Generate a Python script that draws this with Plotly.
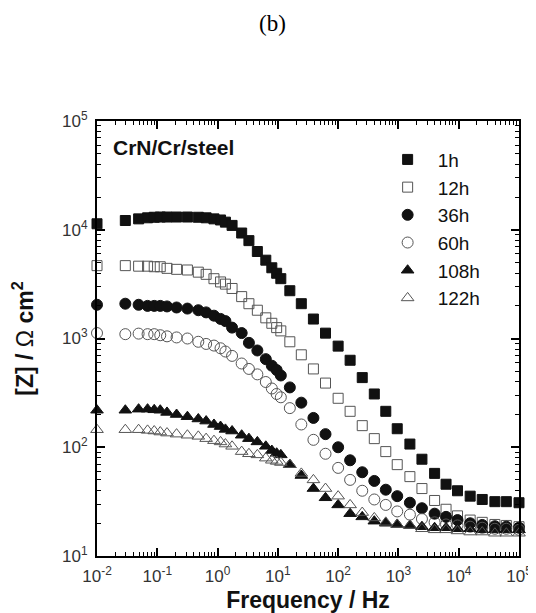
import plotly.graph_objects as go

freq_hz = [0.01, 0.0295, 0.049, 0.069, 0.089, 0.112, 0.145, 0.209, 0.316, 0.479,
           0.646, 0.871, 1.12, 1.35, 1.74, 2.51, 3.31, 4.57, 6.31, 7.94,
           9.55, 11.2, 15.8, 24.5, 38.9, 61.7, 100, 158, 251, 398,
           617, 955, 1550, 2455, 3981, 6166, 9550, 15490, 24550, 39810,
           61660, 100000]

z_1h = [11350, 12160, 12590, 12880, 13030, 13090, 13090, 13090, 13090, 13030,
        12880, 12590, 12300, 11750, 10960, 9330, 7940, 6310, 5250, 4470,
        3980, 3550, 2750, 2090, 1510, 1120, 851, 631, 437, 309,
        214, 148, 107, 77.6, 57.5, 45.7, 39.8, 35.5, 33.1, 31.6,
        31.6, 30.9]
z_12h = [4677, 4677, 4624, 4624, 4571, 4571, 4416, 4325, 4266, 4074,
         3890, 3548, 3311, 3162, 2884, 2427, 2089, 1820, 1549, 1380,
         1259, 1175, 933, 708, 525, 389, 282, 214, 158, 120,
         91.2, 69.2, 53.7, 41.7, 32.4, 26.9, 23.4, 21.4, 20.4, 19.5,
         19.1, 18.6]
z_36h = [2042, 2089, 2042, 1995, 1995, 1995, 1972, 1928, 1884, 1820,
         1738, 1622, 1514, 1445, 1259, 1122, 912, 776, 646, 562,
         513, 457, 355, 257, 186, 132, 100, 75.9, 58.9, 49.0,
         40.7, 35.5, 30.9, 27.5, 24.5, 22.9, 21.4, 20.0, 19.3, 18.8,
         18.6, 18.2]
z_60h = [1122, 1096, 1109, 1096, 1096, 1072, 1047, 1023, 1000, 933,
         891, 861, 813, 759, 692, 589, 525, 468, 398, 347,
         309, 288, 229, 162, 117, 87.1, 64.6, 50.1, 39.8, 33.1,
         29.5, 25.7, 24.0, 21.9, 20.4, 19.5, 19.1, 18.6, 18.2, 17.8,
         17.8, 17.4]
z_108h = [219, 219, 224, 224, 221, 219, 209, 200, 191, 182,
          174, 162, 155, 146, 141, 129, 120, 112, 102, 93.3,
          88.1, 85.1, 69.2, 55.0, 41.7, 34.3, 29.5, 24.5, 22.9, 20.9,
          20.0, 19.5, 19.1, 18.6, 18.2, 18.2, 17.8, 17.8, 17.4, 17.4,
          17.4, 17.4]
z_122h = [145, 145, 145, 143, 141, 138, 135, 132, 129, 126,
          120, 115, 112, 107, 102, 91.2, 87.1, 85.1, 79.4, 75.9,
          74.1, 72.4, 69.2, 57.5, 50.1, 41.7, 35.5, 29.5, 25.1, 22.4,
          20.4, 19.5, 19.1, 17.8, 17.4, 17.4, 17.0, 16.6, 16.6, 16.2,
          16.2, 16.2]

series_names = ["1h", "12h", "36h", "60h", "108h", "122h"]
series_values = [z_1h, z_12h, z_36h, z_60h, z_108h, z_122h]
symbols = ["square", "square-open", "circle", "circle-open", "triangle-up", "triangle-up-open"]
colors = ["#111111", "#555555", "#111111", "#555555", "#111111", "#555555"]

x_tickvals = [0.01, 0.1, 1, 10, 100, 1000, 10000, 100000]
x_ticktext = ["10<sup>-2</sup>", "10<sup>-1</sup>", "10<sup>0</sup>", "10<sup>1</sup>",
              "10<sup>2</sup>", "10<sup>3</sup>", "10<sup>4</sup>", "10<sup>5</sup>"]
y_tickvals = [10, 100, 1000, 10000, 100000]
y_ticktext = ["10<sup>1</sup>", "10<sup>2</sup>", "10<sup>3</sup>", "10<sup>4</sup>", "10<sup>5</sup>"]
minor_mults = [2, 3, 4, 5, 6, 7, 8, 9]
x_minor = [m * d for d in x_tickvals[:-1] for m in minor_mults]
y_minor = [m * d for d in y_tickvals[:-1] for m in minor_mults]

fig = go.Figure()
for name, vals, sym, col in zip(series_names, series_values, symbols, colors):
    fig.add_trace(go.Scatter(
        x=freq_hz, y=vals, mode="markers", name=name, cliponaxis=False,
        marker=dict(symbol=sym, size=10 if "square" in sym else 11, color=col,
                    line=dict(width=1, color=col)),
    ))

axis_common = dict(
    type="log", showline=True, linewidth=2, linecolor="black", mirror="allticks",
    ticks="inside", ticklen=8, tickwidth=1.5, tickcolor="black",
    showgrid=False, zeroline=False, ticklabelstandoff=4,
    tickfont=dict(family="Liberation Sans, Arial", size=17, color="#333333"),
)

fig.update_xaxes(**axis_common, range=[-2, 5], tickvals=x_tickvals, ticktext=x_ticktext,
                 minor=dict(tickmode="array", tickvals=x_minor, ticks="inside", ticklen=4,
                            tickwidth=1.2, tickcolor="black", showgrid=False),
                 title=dict(text="<b>Frequency / Hz</b>",
                            font=dict(family="Liberation Sans, Arial", size=23, color="#111111"),
                            standoff=6))
fig.update_yaxes(**axis_common, range=[1, 5], tickvals=y_tickvals, ticktext=y_ticktext,
                 minor=dict(tickmode="array", tickvals=y_minor, ticks="inside", ticklen=4,
                            tickwidth=1.2, tickcolor="black", showgrid=False),
                 title=dict(text="<b>[Z] / </b>Ω<b> cm<sup>2</sup></b>",
                            font=dict(family="Liberation Sans, Arial", size=23, color="#111111"),
                            standoff=26))

fig.add_annotation(text="(b)", xref="paper", yref="paper", x=0.415, y=1.225,
                   showarrow=False, xanchor="center", yanchor="middle",
                   font=dict(family="Liberation Serif, Times New Roman", size=23, color="black"))
fig.add_annotation(text="<b>CrN/Cr/steel</b>", xref="paper", yref="paper", x=0.033, y=0.938,
                   showarrow=False, xanchor="left", yanchor="middle",
                   font=dict(family="Liberation Sans, Arial", size=21, color="#111111"))

fig.update_layout(
    width=536, height=613,
    margin=dict(l=88, r=14, t=113, b=64),
    paper_bgcolor="white", plot_bgcolor="white",
    showlegend=True,
    legend=dict(x=0.665, y=0.955, xanchor="left", yanchor="top",
                bgcolor="rgba(0,0,0,0)", itemwidth=50,
                font=dict(family="Liberation Sans, Arial", size=19, color="#111111"),
                tracegroupgap=0),
)

fig.write_html("out.html")
